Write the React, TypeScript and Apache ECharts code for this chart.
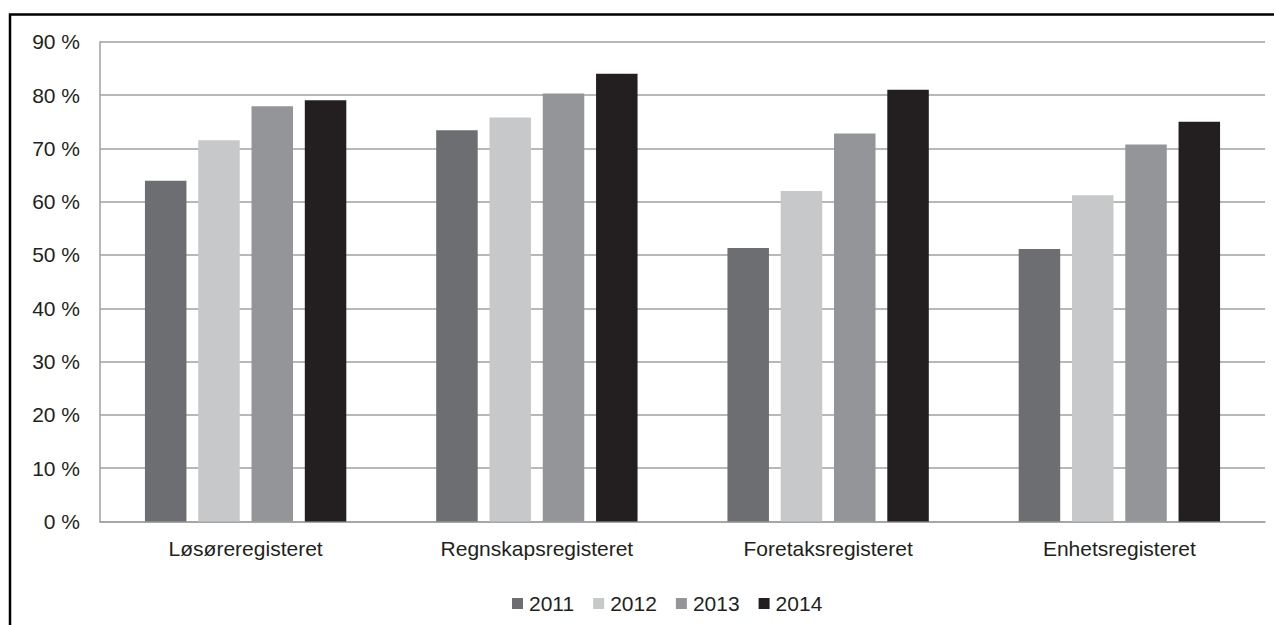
import React, { useEffect, useRef } from "react";
import * as echarts from "echarts";

const categories = ["Løsøreregisteret", "Regnskapsregisteret", "Foretaksregisteret", "Enhetsregisteret"];
const years = ["2011", "2012", "2013", "2014"];
const values2011 = [63.9, 73.4, 51.3, 51.1];
const values2012 = [71.5, 75.8, 62.0, 61.2];
const values2013 = [77.9, 80.3, 72.8, 70.7];
const values2014 = [79.0, 84.0, 81.0, 75.0];
const yTicks = { min: 0, max: 90, interval: 10 };
const colors = ["#6d6e71", "#c7c8ca", "#939598", "#231f20"];

export default function App() {
  const ref = useRef<HTMLDivElement>(null);
  useEffect(() => {
    if (!ref.current) return;
    const chart = echarts.init(ref.current, null, { renderer: "svg" });
    const seriesValues = [values2011, values2012, values2013, values2014];
    const font = "'Liberation Sans', Arial, sans-serif";
    chart.setOption({
      animation: false,
      backgroundColor: "#ffffff",
      textStyle: { fontFamily: font },
      grid: { left: 100, right: 9, top: 41.7, bottom: 103.5, containLabel: false },
      graphic: [
        {
          type: "rect",
          shape: { x: 10, y: 14.5, width: 1400, height: 800 },
          style: { fill: "none", stroke: "#000", lineWidth: 2.5 },
          silent: true,
        },
      ],
      legend: {
        data: years,
        left: 507,
        top: 588,
        itemWidth: 11,
        itemHeight: 11,
        itemGap: 19,
        icon: "rect",
        textStyle: { fontSize: 21, color: "#231f20", fontFamily: font, padding: [0, 0, 0, 1] },
      },
      xAxis: {
        type: "category",
        data: categories,
        axisLine: { show: true, lineStyle: { color: "#a0a0a0", width: 1.5 } },
        axisTick: { show: false },
        axisLabel: { fontSize: 21, color: "#231f20", margin: 16, fontFamily: font },
      },
      yAxis: {
        type: "value",
        min: yTicks.min,
        max: yTicks.max,
        interval: yTicks.interval,
        axisLine: { show: true, lineStyle: { color: "#a0a0a0", width: 1.5 } },
        axisTick: { show: false },
        splitLine: { show: true, lineStyle: { color: "#a0a0a0", width: 1.5 } },
        axisLabel: { fontSize: 21, color: "#231f20", margin: 20, formatter: "{value} %", fontFamily: font },
      },
      series: years.map((y, i) => ({
        name: y,
        type: "bar",
        data: seriesValues[i],
        barWidth: 41.5,
        barGap: "28.4%",
        itemStyle: { color: colors[i] },
      })),
    });
    return () => chart.dispose();
  }, []);
  return <div ref={ref} style={{ position: "fixed", left: 0, top: 0, width: 1274, height: 625 }} />;
}
